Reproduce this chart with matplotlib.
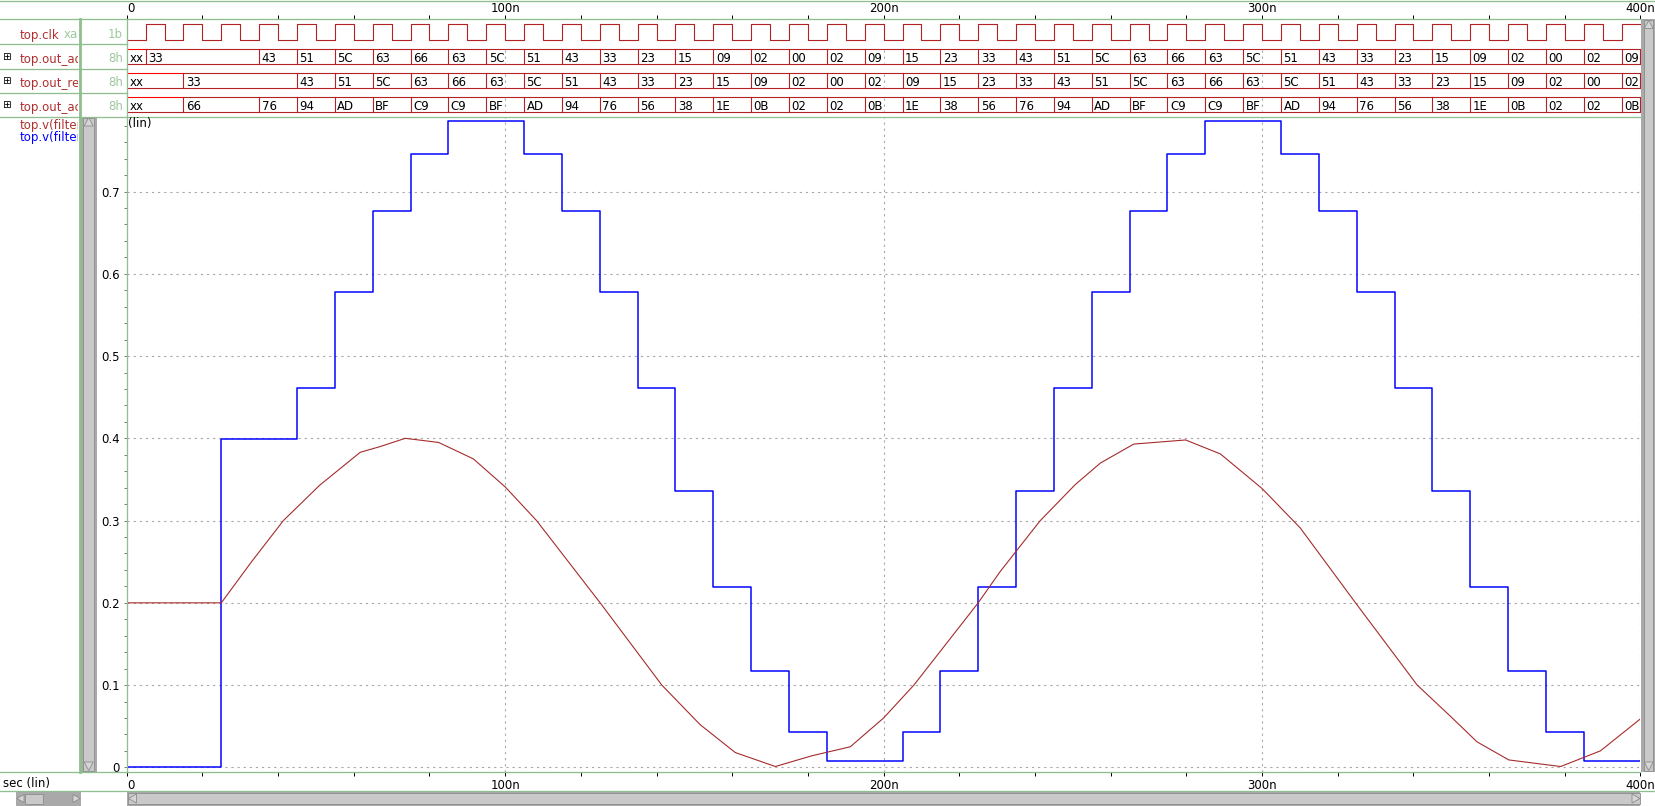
import matplotlib
matplotlib.use("Agg")
import matplotlib.pyplot as plt
import numpy as np
from matplotlib.patches import Rectangle, Polygon
from matplotlib.transforms import blended_transform_factory

W, H = 1656, 806

# ---- data -------------------------------------------------------------
time_ticks = [0, 100, 200, 300, 400]
time_labels = ["0", "100n", "200n", "300n", "400n"]
volt_ticks = [0.0, 0.1, 0.2, 0.3, 0.4, 0.5, 0.6, 0.7]
volt_labels = ["0", "0.1", "0.2", "0.3", "0.4", "0.5", "0.6", "0.7"]

# clock level per 5 ns half period, 0..400 ns
clk_levels = "01010101010101010101010101010101010101010101010101010101010101010101010101010101"

out_adc_t = [0, 5, 35, 45, 55, 65, 75, 85, 95, 105, 115, 125, 135, 145, 155, 165, 175,
             185, 195, 205, 215, 225, 235, 245, 255, 265, 275, 285, 295, 305, 315, 325,
             335, 345, 355, 365, 375, 385, 395]
out_adc_v = ["xx", "33", "43", "51", "5C", "63", "66", "63", "5C", "51", "43", "33", "23",
             "15", "09", "02", "00", "02", "09", "15", "23", "33", "43", "51", "5C", "63",
             "66", "63", "5C", "51", "43", "33", "23", "15", "09", "02", "00", "02", "09"]

out_reg_t = [0, 15, 45, 55, 65, 75, 85, 95, 105, 115, 125, 135, 145, 155, 165, 175, 185,
             195, 205, 215, 225, 235, 245, 255, 265, 275, 285, 295, 305, 315, 325, 335,
             345, 355, 365, 375, 385, 395]
out_reg_v = ["xx", "33", "43", "51", "5C", "63", "66", "63", "5C", "51", "43", "33", "23",
             "15", "09", "02", "00", "02", "09", "15", "23", "33", "43", "51", "5C", "63",
             "66", "63", "5C", "51", "43", "33", "23", "15", "09", "02", "00", "02"]

out_acc_t = [0, 15, 35, 45, 55, 65, 75, 85, 95, 105, 115, 125, 135, 145, 155, 165, 175,
             185, 195, 205, 215, 225, 235, 245, 255, 265, 275, 285, 295, 305, 315, 325,
             335, 345, 355, 365, 375, 385, 395]
out_acc_v = ["xx", "66", "76", "94", "AD", "BF", "C9", "C9", "BF", "AD", "94", "76", "56",
             "38", "1E", "0B", "02", "02", "0B", "1E", "38", "56", "76", "94", "AD", "BF",
             "C9", "C9", "BF", "AD", "94", "76", "56", "38", "1E", "0B", "02", "02", "0B"]

# analog: stepped DAC output (blue) and filtered output (red)
dac_t = [0, 25, 45, 55, 65, 75, 85, 105, 115, 125, 135, 145, 155, 165, 175, 185, 205,
         215, 225, 235, 245, 255, 265, 275, 285, 305, 315, 325, 335, 345, 355, 365, 375,
         385, 400]
dac_v = [0.0, 0.399, 0.461, 0.578, 0.676, 0.746, 0.786, 0.746, 0.676, 0.578, 0.461, 0.336,
         0.219, 0.117, 0.043, 0.008, 0.043, 0.117, 0.219, 0.336, 0.461, 0.578, 0.676,
         0.746, 0.786, 0.746, 0.676, 0.578, 0.461, 0.336, 0.219, 0.117, 0.043, 0.008, 0.008]

filt_t = [0, 25, 33, 41.4, 51, 61.7, 67, 73.6, 82.4, 91.6, 100, 108.3, 125.1, 141.4,
          151.5, 160.8, 171.4, 181, 191.2, 200, 208, 225, 230.8, 241.4, 250.7, 257.3,
          266.1, 279.8, 289, 300, 310.1, 324.7, 341, 349.8, 356.8, 365.2, 378.9, 389.4, 400]
filt_v = [0.200, 0.200, 0.250, 0.300, 0.343, 0.383, 0.390, 0.400, 0.395, 0.375, 0.341,
          0.300, 0.200, 0.100, 0.052, 0.018, 0.001, 0.014, 0.025, 0.060, 0.100, 0.200,
          0.238, 0.300, 0.344, 0.370, 0.393, 0.398, 0.381, 0.339, 0.291, 0.200, 0.100,
          0.062, 0.031, 0.009, 0.001, 0.020, 0.059]

# ---- style ------------------------------------------------------------
GREEN = "#8fbf8f"
LGREEN = "#9cc89c"
DRED = "#b22222"
NRED = "#b03030"
GRIDC = "#a8a8a8"
GRIDLS = (0, (2, 3.5))
FS = 8.5
PX = 0.72  # one pixel in points

fig = plt.figure(figsize=(W / 100, H / 100), dpi=100)


def box(x0, y0, x1, y1):
    return [x0 / W, 1 - y1 / H, (x1 - x0) / W, (y1 - y0) / H]


X0, X1 = 126.7, 1640.5

# analog panel
ax_a = fig.add_axes(box(X0, 116.7, X1, 771.7))
ax_a.set_xlim(0, 400)
ax_a.set_ylim(-0.0053, 0.791)
for s in ax_a.spines.values():
    s.set_visible(False)
ax_a.set_xticks(time_ticks[1:])
ax_a.tick_params(axis="x", length=0, labelbottom=False)
ax_a.set_yticks(volt_ticks)
ax_a.set_yticklabels(volt_labels)
ax_a.set_yticks(np.arange(0, 0.79, 0.02), minor=True)
ax_a.tick_params(axis="y", which="both", length=3.3 * PX, width=PX, color="#808080",
                 labelsize=FS, pad=4 * PX)
ax_a.grid(True, which="major", color=GRIDC, linestyle=GRIDLS, linewidth=0.8)
ax_a.step(dac_t, dac_v, where="post", color="#0000ff", linewidth=1.5 * PX, zorder=3)
ax_a.plot(filt_t, filt_v, color="#a52a2a", linewidth=1.1 * PX, zorder=4)

# digital panel (y in pixel rows)
ax_d = fig.add_axes(box(X0, 19.3, X1, 116.7))
ax_d.set_xlim(0, 400)
ax_d.set_ylim(116.7, 19.3)
ax_d.axis("off")

clk_t = np.arange(len(clk_levels) + 1) * 5
clk_y = [40 if c == "0" else 24.3 for c in clk_levels]
clk_y.append(clk_y[-1])
ax_d.step(clk_t, clk_y, where="post", color=DRED, linewidth=1.1 * PX, clip_on=False)

bus_rows = [(out_adc_t, out_adc_v, 49.0, 64.3),
            (out_reg_t, out_reg_v, 72.7, 88.3),
            (out_acc_t, out_acc_v, 96.7, 112.3)]
for times, vals, top, bot in bus_rows:
    ends = times[1:] + [400]
    for t0, t1, v in zip(times, ends, vals):
        ax_d.plot([t0, t1], [top, top], color="#ff0000" if v == "xx" else DRED,
                  linewidth=1.1 * PX, solid_capstyle="butt", clip_on=False)
        ax_d.plot([t0, t1], [bot, bot], color=DRED, linewidth=1.1 * PX,
                  solid_capstyle="butt", clip_on=False)
        if t0 > 0:
            ax_d.plot([t0, t0], [top, bot], color=DRED, linewidth=1.1 * PX)
        ax_d.text(t0 + 0.65, bot - 2.0, v, fontsize=FS, va="baseline", ha="left")
    ax_d.plot([400, 400], [top, bot], color=DRED, linewidth=1.1 * PX, clip_on=False)
    ax_d.vlines(time_ticks[1:], top + 1, bot - 1, color=GRIDC,
                linestyle=GRIDLS, linewidth=0.8)

# time rulers
ax_t = fig.add_axes(box(X0, 0, X1, 19.3))
ax_b = fig.add_axes(box(X0, 771.7, X1, 791))
for ax, y_lab, side in ((ax_t, 0.394, "bottom"), (ax_b, 0.104, "top")):
    ax.set_xlim(0, 400)
    ax.set_ylim(0, 1)
    ax.patch.set_alpha(0)
    for s in ax.spines.values():
        s.set_visible(False)
    ax.set_yticks([])
    ax.set_xticks(np.arange(0, 401, 20))
    if side == "top":
        ax.xaxis.tick_top()
    ax.tick_params(axis="x", direction="in", length=4 * PX, width=PX, color="black",
                   labelbottom=False, labeltop=False)
    tr = blended_transform_factory(ax.transData, ax.transAxes)
    for t, lab in zip(time_ticks, time_labels):
        ax.text(t + (0.15 if t == 0 else 0), y_lab, lab, transform=tr, fontsize=FS,
                ha="left" if t == 0 else "center", va="baseline", clip_on=False)

# overlay for window chrome
ax_o = fig.add_axes([0, 0, 1, 1], zorder=10)
ax_o.set_xlim(0, W)
ax_o.set_ylim(H, 0)
ax_o.axis("off")
ax_o.patch.set_alpha(0)

gl = dict(color=GREEN, linewidth=1.3 * PX)
ax_o.plot([0, W], [0.8, 0.8], **gl)
ax_o.plot([0, 1640.5], [19.3, 19.3], **gl)
for y in (44.3, 68.7, 92.7):
    ax_o.plot([0, X0], [y, y], **gl)
ax_o.plot([0, 1640.5], [116.7, 116.7], **gl)
ax_o.plot([0, 1640.5], [771.7, 771.7], **gl)
ax_o.plot([0, W], [791.2, 791.2], **gl)
ax_o.plot([79.6, 79.6], [19.3, 771.7], color=GREEN, linewidth=2.8 * PX)
ax_o.plot([X0, X0], [19.3, 771.7], **gl)


def tri(pts, ax=ax_o):
    ax.add_patch(Polygon(pts, closed=True, facecolor="#d6d6d6", edgecolor="#8c8c8c",
                         linewidth=0.6))


# left vertical scrollbar
ax_o.add_patch(Rectangle((81, 116.7), 15.7, 655, facecolor="#a9a9a9", edgecolor="none"))
ax_o.add_patch(Rectangle((83.5, 117.5), 10.5, 653, facecolor="#c9c9c9",
                         edgecolor="#8c8c8c", linewidth=0.6))
tri([(88.7, 117.5), (84.2, 126), (93.2, 126)])
tri([(88.7, 770.5), (84.2, 762), (93.2, 762)])

# right vertical scrollbar
ax_o.add_patch(Rectangle((1640.8, 19.3), 15.2, 752.4, facecolor="#a9a9a9", edgecolor="none"))
ax_o.add_patch(Rectangle((1644, 20), 9.5, 751, facecolor="#c9c9c9",
                         edgecolor="#8c8c8c", linewidth=0.6))
tri([(1648.7, 20.5), (1644.3, 28.5), (1653.2, 28.5)])
tri([(1648.7, 770.5), (1644.3, 762), (1653.2, 762)])

# bottom horizontal scrollbars
ax_o.add_patch(Rectangle((16, 791.7), 65, 14.3, facecolor="#a9a9a9", edgecolor="none"))
ax_o.add_patch(Rectangle((25, 793.5), 18.3, 10, facecolor="#c9c9c9",
                         edgecolor="#8c8c8c", linewidth=0.6))
tri([(17, 798.5), (24, 794.5), (24, 802.5)])
tri([(80, 798.5), (73, 794.5), (73, 802.5)])
ax_o.add_patch(Rectangle((127, 791.7), 1513.5, 14.3, facecolor="#a9a9a9", edgecolor="none"))
ax_o.add_patch(Rectangle((128, 793), 1512, 11, facecolor="#c9c9c9",
                         edgecolor="#8c8c8c", linewidth=0.6))
tri([(128.5, 798.5), (136.5, 794), (136.5, 803)])
tri([(1640, 798.5), (1632, 794), (1632, 803)])

# signal names
clip = Rectangle((0, 0), 78.2, H, transform=ax_o.transData)
names = [("top.clk", NRED, 38.5), ("top.out_adc", NRED, 62.5), ("top.out_reg", NRED, 86.5),
         ("top.out_acc", NRED, 110.5), ("top.v(filter_out)", NRED, 128.5),
         ("top.v(filter_in)", "#0000ff", 141.0)]
for txt, col, yb in names:
    t = ax_o.text(20, yb, txt, color=col, fontsize=FS, va="baseline", clip_on=True)
    t.set_clip_path(clip)
t = ax_o.text(64, 38.5, "xa", color=LGREEN, fontsize=FS, va="baseline", clip_on=True)
t.set_clip_path(clip)
for lab, yb in (("1b", 38.5), ("8h", 62.5), ("8h", 86.5), ("8h", 110.5)):
    ax_o.text(123, yb, lab, color=LGREEN, fontsize=FS, va="baseline", ha="right")
for yc in (57.0, 81.0, 104.5):
    ax_o.text(6, yc, "\u229e", fontsize=7.5, va="center", ha="center", color="black")

ax_o.text(127.8, 127.5, "(lin)", fontsize=FS, va="baseline", ha="left")
ax_o.text(2.7, 787.5, "sec (lin)", fontsize=FS, va="baseline", ha="left")

fig.savefig("out.png", dpi=100)
